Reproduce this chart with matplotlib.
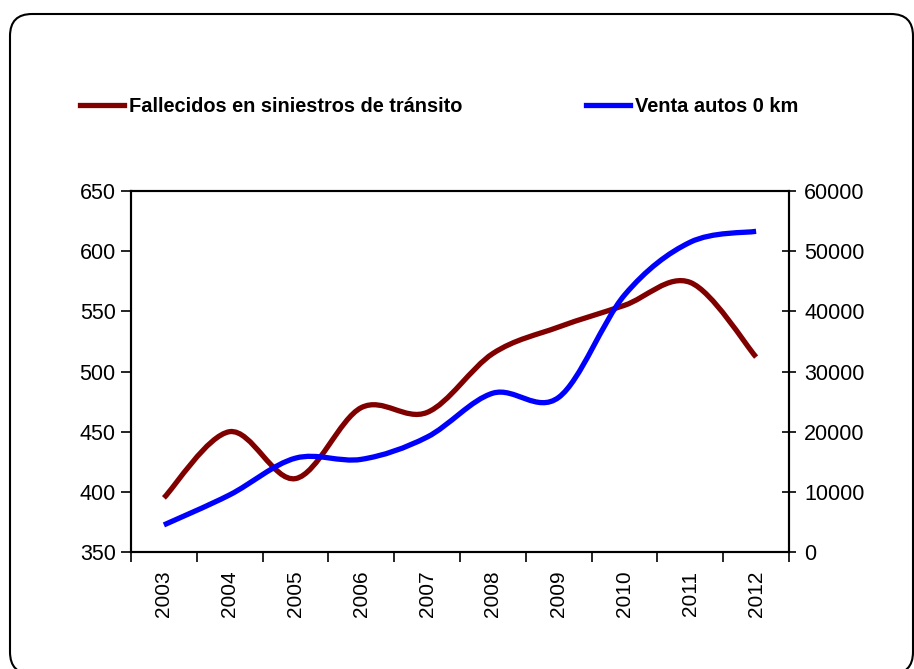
import matplotlib
matplotlib.use('Agg')
from matplotlib import pyplot as plt
from matplotlib.path import Path
from matplotlib.patches import PathPatch, FancyBboxPatch
from matplotlib.lines import Line2D
from matplotlib.transforms import IdentityTransform
import numpy as np

years = ['2003', '2004', '2005', '2006', '2007', '2008', '2009', '2010', '2011', '2012']
fallecidos = [395, 450, 411, 470, 466, 515, 537, 555, 574, 512]
ventas = [4500, 9500, 15600, 15400, 19100, 26400, 25700, 42700, 51500, 53300]

red = '#800000'
blue = '#0000ff'

plt.rcParams['font.family'] = ['Liberation Sans', 'DejaVu Sans']


def smooth_path(xs, ys):
    # bezier path through the points, like the "smoothed line" option of a spreadsheet
    p = np.column_stack([xs, ys]).astype(float)
    n = len(p)
    verts = [p[0]]
    codes = [Path.MOVETO]
    for i in range(n - 1):
        p0 = p[i - 1] if i > 0 else p[i]
        p3 = p[i + 2] if i + 2 < n else p[i + 1]
        c1 = p[i] + (p[i + 1] - p0) / 6
        c2 = p[i + 1] - (p3 - p[i]) / 6
        verts += [c1, c2, p[i + 1]]
        codes += [Path.CURVE4] * 3
    return Path(verts, codes)


fig = plt.figure(figsize=(9.14, 6.69), dpi=100)
ax = fig.add_axes([131 / 914, 1 - 552 / 669, 658 / 914, 361 / 669])
ax2 = ax.twinx()

x = np.arange(len(years))
ax.add_patch(PathPatch(smooth_path(x, fallecidos), fill=False, color=red, lw=3.8,
                       capstyle='butt', joinstyle='round'))
ax2.add_patch(PathPatch(smooth_path(x, ventas), fill=False, color=blue, lw=3.8,
                        capstyle='butt', joinstyle='round'))

ax.set_xlim(-0.5, len(years) - 0.5)
ax.set_ylim(350, 650)
ax.set_yticks(range(350, 651, 50))
ax2.set_ylim(0, 60000)
ax2.set_yticks(range(0, 60001, 10000))

ax.set_xticks(x)
ax.set_xticklabels(years, rotation=90)
ax.set_xticks(np.arange(-0.5, len(years), 1), minor=True)
ax.tick_params(axis='x', which='major', length=0, pad=13.5, labelsize=15)
ax.tick_params(axis='x', which='minor', length=7, width=1.2, direction='out')
ax.tick_params(axis='y', length=7, width=1.2, direction='out', labelsize=15.5, pad=4)
ax2.tick_params(axis='y', length=10, width=1.2, direction='inout', labelsize=15.5, pad=6)

for a in (ax, ax2):
    for s in a.spines.values():
        s.set_linewidth(1.5)

handles = [Line2D([], [], color=red, lw=3.8), Line2D([], [], color=blue, lw=3.8)]
fig.legend(handles, ['Fallecidos en siniestros de tránsito', 'Venta autos 0 km'],
           loc='center left', bbox_to_anchor=(70 / 914, 1 - 106 / 669), ncol=2,
           frameon=False, prop={'weight': 'bold', 'size': 14.4}, borderpad=0,
           handlelength=2.2, handletextpad=0.25, columnspacing=6.2)

frame = FancyBboxPatch((10, -5), 903, 660 - 0, boxstyle='round,pad=0,rounding_size=22',
                       transform=IdentityTransform(), fill=False, lw=1.5, ec='black')
fig.patches.append(frame)

fig.savefig('out.png', dpi=100)
